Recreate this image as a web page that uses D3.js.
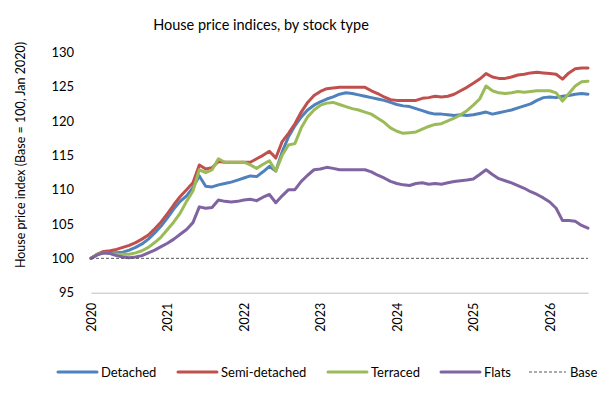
<!DOCTYPE html>
<html>
<head>
<meta charset="utf-8">
<script src="https://cdn.jsdelivr.net/npm/d3@7"></script>
<style>
  html, body { margin: 0; padding: 0; background: #ffffff; }
  svg { display: block; font-family: Lato, "Open Sans", sans-serif; }
</style>
</head>
<body>
<svg id="chart" width="604" height="401"></svg>
<script>
// ---------- data ----------
const title = "House price indices, by stock type";
const yAxisTitle = "House price index (Base = 100, Jan 2020)";
const yearLabels = ["2020", "2021", "2022", "2023", "2024", "2025", "2026"];
// monthly categories Jan 2020 .. Jul 2026
const months = [];
yearLabels.forEach(y => { for (let m = 1; m <= 12; m++) months.push(y + "-" + String(m).padStart(2, "0")); });
months.splice(79);
const yTicks = [95, 100, 105, 110, 115, 120, 125, 130];
const baseLevel = 100;

const detached = [
  100.0, 100.6, 100.8, 100.8, 100.8, 100.9, 101.2, 101.6, 102.1, 102.8, 103.7, 104.7,
  105.9, 107.2, 108.3, 109.1, 110.3, 112.0, 110.5, 110.4, 110.7, 110.9, 111.1, 111.4,
  111.7, 112.0, 111.9, 112.6, 113.4, 112.7, 115.5, 117.7, 119.3, 120.6, 121.6, 122.3,
  122.8, 123.2, 123.5, 123.9, 124.1, 124.0, 123.8, 123.6, 123.4, 123.2, 123.0, 122.7,
  122.4, 122.2, 122.1, 121.8, 121.5, 121.2, 121.0, 121.0, 120.9, 120.8, 120.9, 120.8,
  120.9, 121.1, 121.3, 121.0, 121.2, 121.4, 121.6, 121.9, 122.2, 122.5, 123.0, 123.4,
  123.5, 123.4, 123.6, 123.7, 123.9, 124.0, 123.9
];
const semiDetached = [
  100.0, 100.6, 101.0, 101.1, 101.3, 101.6, 101.9, 102.3, 102.8, 103.4, 104.3, 105.3,
  106.5, 107.8, 109.0, 110.0, 111.0, 113.6, 113.0, 113.2, 114.1, 114.0, 114.0, 114.0,
  114.0, 114.0, 114.5, 115.0, 115.6, 114.6, 117.0, 118.2, 119.6, 121.3, 122.7, 123.7,
  124.3, 124.7, 124.8, 124.9, 124.9, 124.9, 124.9, 124.9, 124.4, 124.0, 123.5, 123.1,
  123.0, 123.0, 123.0, 123.0, 123.3, 123.4, 123.6, 123.5, 123.6, 123.9, 124.4, 124.9,
  125.5, 126.1, 126.9, 126.4, 126.2, 126.2, 126.4, 126.7, 126.8, 127.0, 127.1, 127.0,
  126.9, 126.8, 126.1, 127.0, 127.6, 127.7, 127.7
];
const terraced = [
  100.0, 100.6, 100.8, 100.7, 100.6, 100.6, 100.6, 100.8, 101.1, 101.6, 102.3, 103.1,
  104.2, 105.3, 106.6, 108.3, 109.8, 112.9, 112.5, 112.9, 114.5, 114.0, 114.0, 114.0,
  114.0, 113.6, 113.1, 113.7, 114.2, 112.7, 115.0, 116.5, 116.7, 119.0, 120.6, 121.6,
  122.3, 122.6, 122.7, 122.4, 122.1, 121.8, 121.6, 121.3, 121.0, 120.4, 119.8, 119.0,
  118.5, 118.2, 118.3, 118.4, 118.8, 119.2, 119.5, 119.6, 120.0, 120.4, 120.9, 121.5,
  122.3, 123.2, 125.1, 124.4, 124.1, 124.0, 124.1, 124.3, 124.2, 124.3, 124.4, 124.4,
  124.4, 124.1, 122.9, 124.0, 125.1, 125.7, 125.8
];
const flats = [
  100.0, 100.5, 100.8, 100.7, 100.4, 100.2, 100.1, 100.2, 100.4, 100.8, 101.2, 101.7,
  102.2, 102.8, 103.5, 104.2, 105.2, 107.5, 107.3, 107.4, 108.5, 108.3, 108.2, 108.3,
  108.5, 108.6, 108.4, 108.9, 109.3, 108.1, 109.1, 110.0, 110.0, 111.2, 112.1, 112.9,
  113.0, 113.25, 113.1, 112.9, 112.9, 112.9, 112.9, 112.9, 112.6, 112.1, 111.7, 111.2,
  110.9, 110.7, 110.6, 110.9, 111.0, 110.8, 110.9, 110.8, 111.0, 111.2, 111.3, 111.4,
  111.55, 112.2, 112.9, 112.2, 111.6, 111.3, 111.0, 110.6, 110.2, 109.7, 109.3, 108.8,
  108.2, 107.3, 105.5, 105.5, 105.4, 104.8, 104.4
];

const seriesNames = ["Detached", "Semi-detached", "Terraced", "Flats"];
const seriesValues = [detached, semiDetached, terraced, flats];
const seriesColors = ["#4F81BD", "#C0504D", "#9BBB59", "#8064A2"];
const baseName = "Base";

// ---------- layout ----------
const svg = d3.select("#chart");
const x = d3.scalePoint().domain(months).range([91, 588]);
const y = d3.scaleLinear().domain([95, 130]).range([292.7, 52.3]);

// title
svg.append("text")
  .attr("x", 261).attr("y", 30)
  .attr("text-anchor", "middle")
  .attr("font-size", 14.5)
  .attr("fill", "#000")
  .text(title);

// y axis title
svg.append("text")
  .attr("transform", "translate(25,155) rotate(-90)")
  .attr("text-anchor", "middle")
  .attr("font-size", 12.5)
  .attr("fill", "#000")
  .text(yAxisTitle);

// y axis
const yAxis = svg.append("g")
  .attr("transform", "translate(91,0)")
  .call(d3.axisLeft(y).tickValues(yTicks).tickSize(0).tickPadding(17));
yAxis.select(".domain").remove();
yAxis.selectAll("text").attr("font-size", 13).attr("font-family", "Lato, sans-serif").attr("fill", "#000");

// x axis
const xAxis = svg.append("g")
  .attr("transform", `translate(0,${y(95)})`)
  .call(d3.axisBottom(x)
    .tickValues(yearLabels.map(yy => yy + "-01"))
    .tickFormat(d => d.slice(0, 4))
    .tickSize(0));
xAxis.select(".domain").attr("stroke", "#BFBFBF").attr("stroke-width", 1);
xAxis.selectAll("text")
  .attr("font-size", 12.5)
  .attr("font-family", "Lato, sans-serif")
  .attr("fill", "#000")
  .attr("text-anchor", "end")
  .attr("transform", "rotate(-90)")
  .attr("x", -10)
  .attr("y", 0)
  .attr("dy", "0.35em");

// series lines
const line = d3.line()
  .x((d, i) => x(months[i]))
  .y(d => y(d));

seriesValues.forEach((vals, k) => {
  svg.append("path")
    .datum(vals)
    .attr("d", line)
    .attr("fill", "none")
    .attr("stroke", seriesColors[k])
    .attr("stroke-width", 3)
    .attr("stroke-linejoin", "round")
    .attr("stroke-linecap", "round");
});

// base line
svg.append("line")
  .attr("x1", x(months[0])).attr("x2", x(months[months.length - 1]))
  .attr("y1", y(baseLevel)).attr("y2", y(baseLevel))
  .attr("stroke", "#595959")
  .attr("stroke-width", 1)
  .attr("stroke-dasharray", "3,2");

// legend
const legendY = 372;
const legendX = [58, 178, 328, 441, 529];
const legendNames = seriesNames.concat([baseName]);
legendNames.forEach((name, k) => {
  const g = svg.append("g").attr("transform", `translate(${legendX[k]},${legendY})`);
  if (k < 4) {
    g.append("line").attr("x1", 0).attr("x2", 39).attr("y1", 0).attr("y2", 0)
      .attr("stroke", seriesColors[k]).attr("stroke-width", 3).attr("stroke-linecap", "round");
  } else {
    g.append("line").attr("x1", 0).attr("x2", 37).attr("y1", 0).attr("y2", 0)
      .attr("stroke", "#595959").attr("stroke-width", 1).attr("stroke-dasharray", "3,2");
  }
  g.append("text").attr("x", k < 4 ? 43 : 41).attr("y", 0).attr("dy", "0.35em")
    .attr("font-size", 13).attr("fill", "#000").text(name);
});
</script>
</body>
</html>
